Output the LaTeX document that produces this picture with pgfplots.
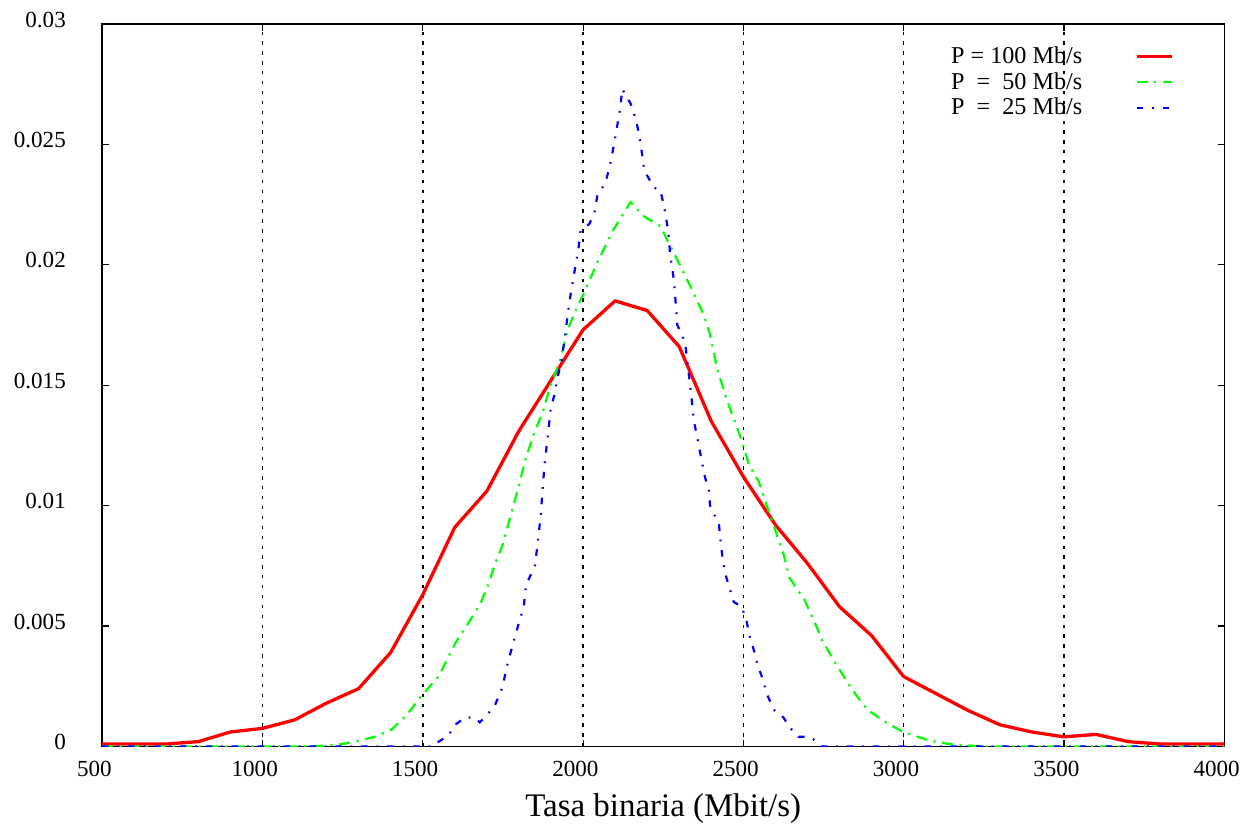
\documentclass[border=0pt]{standalone}
\usepackage{pgfplots}
\pgfplotsset{compat=1.18}
\usepackage{fontspec}
\setmainfont{Liberation Serif}

% densities
\pgfplotstableread{
x y
500 0.0001
600 0.0001
700 0.0001
800 0.0002
900 0.0006
1000 0.00075
1100 0.0011
1200 0.0018
1300 0.0024
1400 0.0039
1500 0.0063
1600 0.0091
1700 0.0106
1800 0.0131
1900 0.0152
2000 0.0173
2100 0.0185
2200 0.0181
2300 0.0166
2400 0.0135
2500 0.0112
2600 0.0092
2700 0.0076
2800 0.0058
2900 0.0046
3000 0.0029
3100 0.0022
3200 0.0015
3300 0.0009
3400 0.0006
3500 0.0004
3600 0.0005
3700 0.0002
3800 0.0001
3900 0.0001
4000 0.0001
}\pcien

\pgfplotstableread{
x y
500 0
1100 0
1200 0.00003
1250 0.0001
1290 0.0002
1350 0.0004
1403 0.0007
1450 0.0013
1496 0.0021
1549 0.0029
1602 0.0043
1651 0.0053
1682 0.0060
1704 0.0067
1726 0.0076
1750 0.0084
1775 0.0096
1803 0.0110
1822 0.0120
1850 0.0131
1875 0.0139
1896 0.0149
1930 0.0161
1952 0.0173
1973 0.0180
2005 0.0189
2045 0.0201
2092 0.0214
2148 0.0226
2191 0.0220
2241 0.0216
2294 0.0202
2320 0.0195
2342 0.0189
2377 0.0179
2396 0.0171
2418 0.0157
2448 0.0144
2473 0.0135
2495 0.0127
2517 0.0117
2548 0.0110
2573 0.0100
2625 0.0080
2644 0.0070
2690 0.0061
2721 0.0052
2746 0.0044
2790 0.0034
2842 0.0023
2889 0.0015
2945 0.0010
2998 0.0006
3079 0.00025
3141 0.0001
3246 0
4000 0
}\pcincuenta

\pgfplotstableread{
x y
500 0
1478 0
1527 0
1550 0.0002
1580 0.00045
1601 0.0009
1632 0.0012
1663 0.0012
1678 0.0010
1700 0.0013
1725 0.0017
1750 0.0025
1760 0.0032
1772 0.0038
1797 0.0050
1815 0.0058
1822 0.0067
1850 0.0075
1859 0.0085
1868 0.0096
1875 0.0109
1880 0.0117
1890 0.0129
1900 0.0141
1911 0.0146
1920 0.0153
1933 0.0160
1945 0.0172
1958 0.0185
1968 0.0193
1977 0.0200
1986 0.0207
1992 0.0214
2020 0.0217
2036 0.0222
2045 0.0229
2070 0.0234
2085 0.0242
2098 0.0251
2107 0.0258
2117 0.0266
2122 0.0273
2148 0.0267
2163 0.0261
2172 0.0256
2184 0.0246
2191 0.0239
2222 0.0232
2241 0.0231
2253 0.0224
2262 0.0217
2268 0.0211
2271 0.0205
2284 0.0193
2294 0.0175
2318 0.0168
2334 0.0150
2346 0.0135
2358 0.0127
2368 0.0120
2380 0.0112
2393 0.0106
2396 0.0100
2424 0.0092
2430 0.0084
2436 0.0077
2445 0.0071
2470 0.0060
2495 0.0058
2510 0.0052
2519 0.0046
2535 0.0039
2544 0.0034
2563 0.0027
2572 0.0022
2597 0.0015
2625 0.0012
2644 0.0008
2672 0.0004
2700 0.0004
2718 0.0003
2744 0
4000 0
}\pveinticinco

\begin{document}
\begin{tikzpicture}
\begin{axis}[
  scale only axis,
  width=511pt, height=329pt,
  xmin=500, xmax=4000,
  ymin=0, ymax=0.03,
  xtick={500,1000,...,4000},
  ytick={0,0.005,0.01,0.015,0.02,0.025,0.03},
  yticklabels={0,0.005,0.01,0.015,0.02,0.025,0.03},
  scaled y ticks=false,
  /pgf/number format/assume math mode=true,
  /pgf/number format/set thousands separator={},
  tick label style={font=\fontsize{10.5}{12}\selectfont},
  xticklabel style={xshift=-3.5pt, yshift=-3pt},
  yticklabel style={xshift=-13pt, yshift=2pt},
  xlabel={Tasa binaria (Mbit/s)},
  xlabel style={font=\fontsize{15}{18}\selectfont, yshift=-1pt},
  major tick length=3pt,
  tick style={black, line width=0.5pt},
  axis line style={black, line width=0.7pt},
  xmajorgrids,
  grid style={black, line width=0.7pt, dash pattern=on 1.5pt off 3pt},
  legend style={at={(0.955,0.975)}, anchor=north east, draw=none, fill=none,
    font=\fontsize{11}{12}\selectfont, inner sep=0pt, row sep=-1.5pt},
  legend cell align=right,
  legend plot pos=right,
  legend image code/.code={\path (0pt,0pt); \draw[#1] (22pt,0pt) -- (38pt,0pt);},
]
\addplot[red, line width=1.5pt, line join=round] table {\pcien};
\addlegendentry{P = 100 Mb/s}
\addplot[green, line width=1pt, dash pattern=on 5pt off 3pt on 1pt off 3pt] table {\pcincuenta};
\addlegendentry{P\ \ =\ \ 50 Mb/s}
\addplot[blue, line width=1pt, dash pattern=on 3pt off 4pt on 0.8pt off 4pt] table {\pveinticinco};
\addlegendentry{P\ \ =\ \ 25 Mb/s}
\end{axis}
% a little blank margin on the left and top, as in the reference
\path (current bounding box.north west) ++(-3pt,2pt) coordinate (m);
\path (m);
\end{tikzpicture}
\end{document}
